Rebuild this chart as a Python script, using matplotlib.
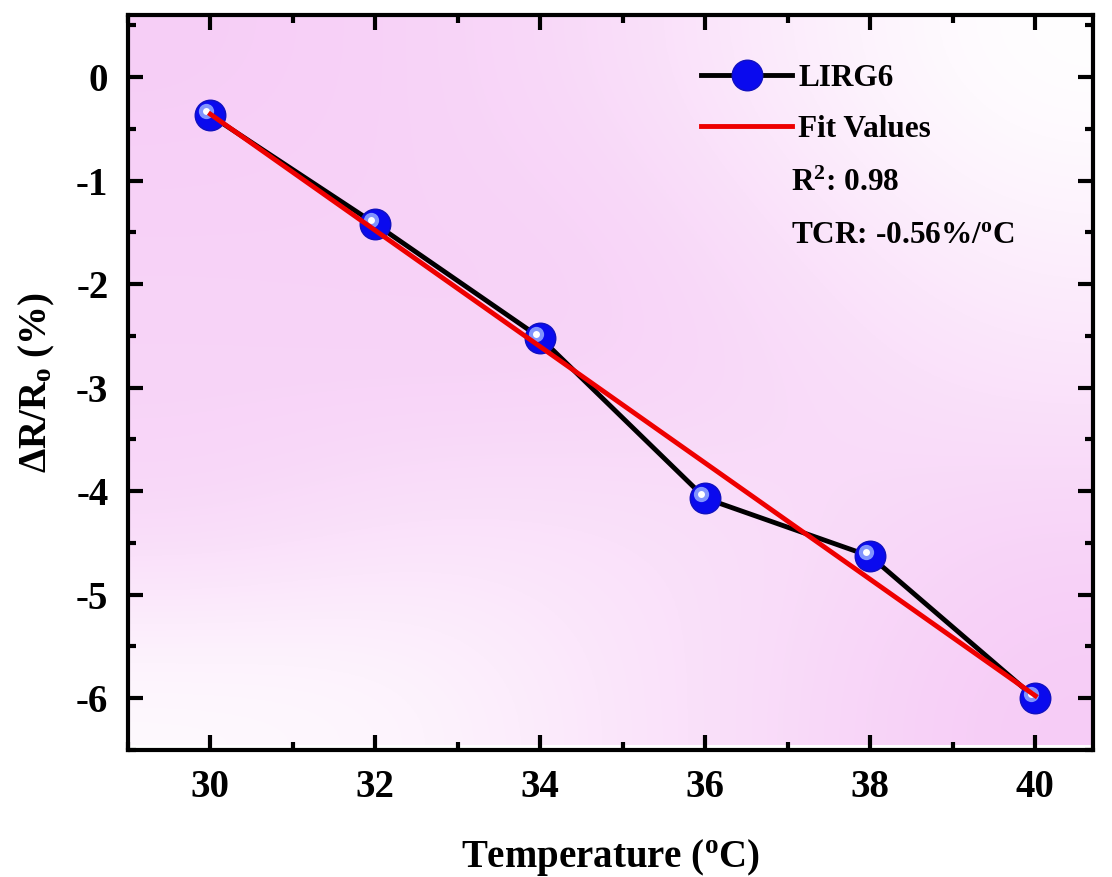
import matplotlib
matplotlib.use("Agg")
import matplotlib.pyplot as plt
import matplotlib.transforms as mtransforms
import numpy as np
from matplotlib.colors import LinearSegmentedColormap

# datos
temperatura = [30, 32, 34, 36, 38, 40]
delta_r = [-0.37, -1.42, -2.52, -4.07, -4.63, -6.0]
x_ticks = [30, 32, 34, 36, 38, 40]
y_ticks = [0, -1, -2, -3, -4, -5, -6]

plt.rcParams['font.family'] = 'Liberation Serif'
plt.rcParams['font.weight'] = 'bold'
plt.rcParams['axes.labelweight'] = 'bold'
plt.rcParams['axes.unicode_minus'] = False
plt.rcParams['mathtext.fontset'] = 'custom'
plt.rcParams['mathtext.rm'] = 'Liberation Serif:bold'
plt.rcParams['mathtext.it'] = 'Liberation Serif:bold'
plt.rcParams['mathtext.bf'] = 'Liberation Serif:bold'

fig = plt.figure(figsize=(11.12, 8.77), dpi=100)
ax = fig.add_axes([0.115, 0.145, 0.868, 0.838])

# fondo degradado rosa
grid = np.array([
    [0.55, 0.50, 0.40, 0.18, 0.00],
    [0.50, 0.50, 0.50, 0.32, 0.15],
    [0.48, 0.50, 0.50, 0.42, 0.30],
    [0.45, 0.32, 0.32, 0.38, 0.48],
    [0.06, 0.10, 0.28, 0.42, 0.58],
])
cmap = LinearSegmentedColormap.from_list('rosa', ['#ffffff', '#f0a6f0'])
ax.imshow(grid, cmap=cmap, vmin=0, vmax=1, interpolation='bicubic',
          extent=[29.0, 40.7, -6.45, 0.6], aspect='auto', zorder=0)

ax.set_xlim(29.0, 40.7)
ax.set_ylim(-6.45, 0.6)

# curva de datos
ax.plot(temperatura, delta_r, '-', color='black', lw=3.5, zorder=2)
ax.plot(temperatura, delta_r, 'o', color='#0a0aee', ms=22, mec='#1010c0', mew=1, zorder=3)
brillo = mtransforms.offset_copy(ax.transData, fig=fig, x=-4, y=4, units='dots')
ax.plot(temperatura, delta_r, 'o', color='#8fa4ff', ms=11, mew=0, alpha=0.9,
        transform=brillo, zorder=3)
ax.plot(temperatura, delta_r, 'o', color='white', ms=5, mew=0,
        transform=brillo, zorder=3)

# ajuste lineal
p = np.polyfit(temperatura, delta_r, 1)
xf = np.array([temperatura[0], temperatura[-1]])
ax.plot(xf, np.polyval(p, xf), color='#ee0000', lw=3.5, zorder=4)

# leyenda manual
h1, = ax.plot([], [], '-o', color='black', lw=3.5, mfc='#0a0aee', mec='#1010c0', ms=22)
h2, = ax.plot([], [], '-', color='#ee0000', lw=3.5)
ax.legend([h1, h2], ['LIRG6', 'Fit Values'], loc='upper left',
          bbox_to_anchor=(0.565, 0.972), frameon=False, fontsize=22.5,
          handlelength=2.9, handletextpad=0.2, labelspacing=0.72)
ax.text(0.687, 0.771, 'R$^\\mathrm{2}$: 0.98', transform=ax.transAxes, fontsize=22.5,
        va='center', ha='left')
ax.text(0.687, 0.700, 'TCR: -0.56%/$^\\mathrm{o}$C', transform=ax.transAxes,
        fontsize=22.5, va='center', ha='left')

# ejes
ax.set_xticks(x_ticks)
ax.set_yticks(y_ticks)
ax.set_xticks(np.arange(29, 41, 1), minor=True)
ax.set_yticks(np.arange(-6.5, 0.6, 0.5), minor=True)
ax.tick_params(which='both', direction='in', top=True, right=True, width=3,
               labelsize=28, pad=14)
ax.tick_params(which='major', length=11)
ax.tick_params(which='minor', length=6)
for s in ax.spines.values():
    s.set_linewidth(3)

ax.set_xlabel('Temperature ($^\\mathrm{o}$C)', fontsize=28, labelpad=22)
ax.set_ylabel('\u0394R/R$_\\mathrm{o}$ (%)', fontsize=28, labelpad=14)

fig.savefig('out.png', dpi=100)
